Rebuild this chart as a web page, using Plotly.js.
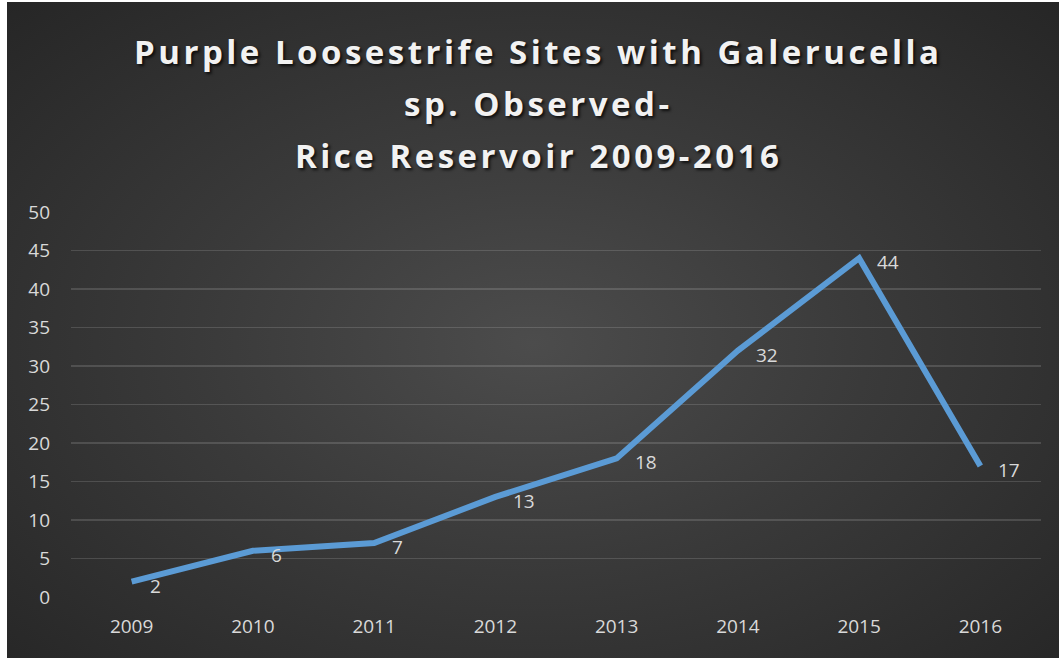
<!DOCTYPE html>
<html>
<head>
<meta charset="utf-8">
<script src="https://cdn.plot.ly/plotly-3.0.1.min.js"></script>
<style>
  html, body { margin: 0; padding: 0; background: #ffffff; }
  #chart {
    position: absolute; left: 7px; top: 2px; width: 1052px; height: 656px;
    background: radial-gradient(ellipse at 50% 52%, #4c4c4c 0%, #3a3a3a 45%, #262626 100%);
  }
</style>
</head>
<body>
<div id="chart"></div>
<script>
const titleLines = ["Purple Loosestrife Sites with Galerucella", "sp. Observed-", "Rice Reservoir 2009-2016"];
const years = ["2009", "2010", "2011", "2012", "2013", "2014", "2015", "2016"];
const sites = [2, 6, 7, 13, 18, 32, 44, 17];
const yTicks = [0, 5, 10, 15, 20, 25, 30, 35, 40, 45, 50];

const tickFont = { family: "Open Sans, sans-serif", size: 19, color: "#d9d9d9" };
const titleSpacing = 3.5;

const annotations = [];
titleLines.forEach((t, i) => {
  annotations.push({
    text: '<span style="letter-spacing:' + titleSpacing + 'px">' + t + '</span>',
    xref: "paper", yref: "paper", x: 0.5, y: 1, yanchor: "middle", xanchor: "center",
    xshift: -5 * titleSpacing, yshift: 161 - i * 52, showarrow: false,
    font: { family: "Open Sans, sans-serif", size: 33, color: "#f2f2f2", weight: 700,
            shadow: "2px 2px 3px rgba(0,0,0,0.75)" }
  });
});
sites.forEach((v, i) => {
  annotations.push({
    text: String(v), x: i, y: v, xref: "x", yref: "y",
    xanchor: "left", yanchor: "middle", xshift: 16, yshift: -4,
    showarrow: false, font: { family: "Open Sans, sans-serif", size: 19, color: "#d9d9d9" }
  });
});

const trace = {
  type: "scatter", mode: "lines", x: years, y: sites,
  line: { color: "#5b9bd5", width: 6 },
  hoverinfo: "skip"
};

const layout = {
  width: 1052, height: 656,
  paper_bgcolor: "rgba(0,0,0,0)", plot_bgcolor: "rgba(0,0,0,0)",
  margin: { l: 64, r: 18, t: 210, b: 61 },
  showlegend: false,
  xaxis: {
    type: "category", range: [-0.5, 7.5], showgrid: false, zeroline: false,
    showline: false, ticks: "", ticklabelstandoff: 16,
    tickfont: Object.assign({}, tickFont), fixedrange: true
  },
  yaxis: {
    range: [0, 50], tickvals: yTicks, showgrid: true,
    gridcolor: "rgba(255,255,255,0.14)", gridwidth: 1.2, zeroline: false,
    showline: false, ticks: "", ticklabelstandoff: 20,
    tickfont: Object.assign({}, tickFont), fixedrange: true
  },
  annotations: annotations
};

Plotly.newPlot("chart", [trace], layout, { staticPlot: true, displayModeBar: false });
</script>
</body>
</html>
